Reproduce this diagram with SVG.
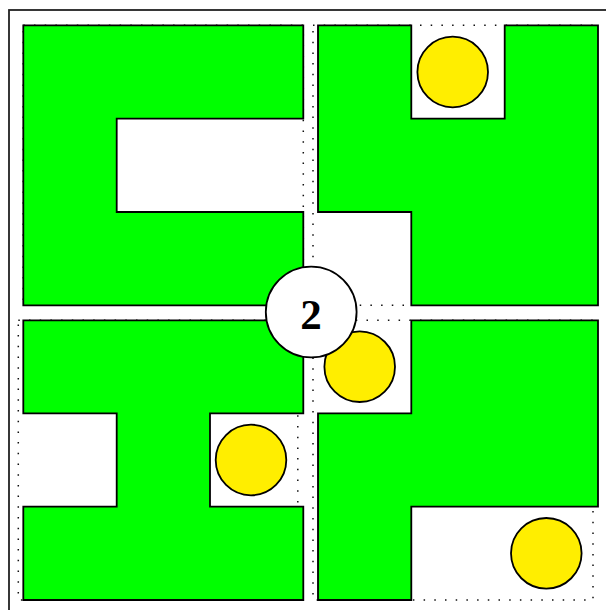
<svg xmlns="http://www.w3.org/2000/svg" width="606" height="610" viewBox="0 0 606 610">
<style>
.frame{fill:none;stroke:#222;stroke-width:1.8}
.green{fill:#00ff00;stroke:#000;stroke-width:1.8;stroke-linejoin:miter}
.dots{fill:none;stroke:#111;stroke-width:1.5;stroke-dasharray:1.5 9.2}
.coin{fill:#ffee00;stroke:#000;stroke-width:1.8}
.badge{fill:#fff;stroke:#000;stroke-width:1.8}
.num{font-family:"Liberation Serif","DejaVu Serif",serif;font-weight:bold;font-size:43px;fill:#000}
</style>
<rect width="606" height="610" fill="#fff"/>
<g id="frame"><rect class="frame" x="9" y="10" width="610" height="610"/></g>
<g id="quadrant-top-left">
<rect class="dots" x="23.3" y="25.3" width="280" height="280"/>
<path class="green" d="M23.3,25.3 H303.3 V118.7 H116.7 V212 H303.3 V305.3 H23.3 Z"/>
</g>
<g id="quadrant-top-right">
<rect class="dots" x="313" y="25.3" width="280" height="280"/>
<path class="green" d="M318,25.3 H411.3 V118.7 H504.7 V25.3 H598 V305.3 H411.3 V212 H318 Z"/>
<circle class="coin" cx="452.7" cy="72" r="35.3"/>
</g>
<g id="quadrant-bottom-left">
<rect class="dots" x="18.3" y="320.3" width="279.5" height="279.7"/>
<path class="green" d="M23.3,320.3 H303.3 V413.3 H210 V506.7 H303.3 V600 H23.3 V506.7 H116.7 V413.3 H23.3 Z"/>
<circle class="coin" cx="251" cy="460" r="35.3"/>
</g>
<g id="quadrant-bottom-right">
<rect class="dots" x="313" y="320.3" width="280" height="279.7"/>
<path class="green" d="M411.3,320.3 H598 V506.7 H411.3 V600 H318 V413.3 H411.3 Z"/>
<circle class="coin" cx="359.7" cy="366.7" r="35.3"/>
<circle class="coin" cx="546.3" cy="553.3" r="35.3"/>
</g>
<g id="badge">
<circle class="badge" cx="311.2" cy="312" r="45.4"/>
<text class="num" x="311" y="328.5" text-anchor="middle">2</text>
</g>
</svg>
